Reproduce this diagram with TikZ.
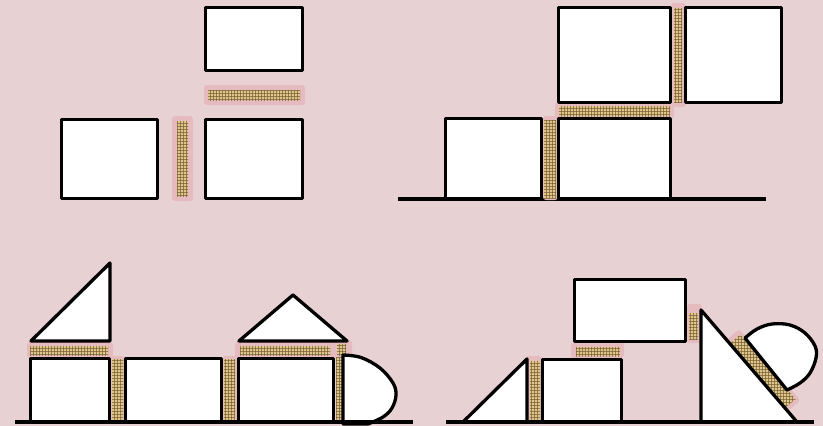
\documentclass[tikz,border=0pt]{standalone}
\usetikzlibrary{patterns}
\definecolor{bgpink}{RGB}{232,209,211}
\definecolor{halopink}{RGB}{229,187,191}
\definecolor{gluetan}{RGB}{222,198,140}
\definecolor{gluedark}{RGB}{120,92,48}
\tikzset{
  blk/.style={draw=black, line width=3.3pt, fill=white, line join=round},
  ground/.style={draw=black, line width=3.3pt},
  halo/.style={fill=halopink, rounded corners=3pt},
}
\newcommand\gluebar[2]{%
  \fill[gluetan] #1 rectangle #2;
  \fill[pattern=grid, pattern color=gluedark, opacity=0.7] #1 rectangle #2;}
\newcommand\gluepoly[1]{%
  \fill[gluetan] #1;
  \fill[pattern=grid, pattern color=gluedark, opacity=0.7] #1;}
\begin{document}
\begin{tikzpicture}[x=1pt,y=-1pt]
\fill[bgpink] (0,0) rectangle (823,426);
\useasboundingbox (0,0) rectangle (823,426);

% ---------- top-left panel ----------
\fill[halo] (204,85) rectangle (305,105);
\gluebar{(208,90)}{(300,100)}
\fill[halo] (172,116) rectangle (193,201);
\gluebar{(177,121)}{(188,196)}
\draw[blk] (205.5,7.5) rectangle (302.5,70.5);
\draw[blk] (61.5,119.5) rectangle (157.5,198.5);
\draw[blk] (205.5,119.5) rectangle (302.5,198.5);

% ---------- top-right panel ----------
\draw[ground] (398,199) -- (766,199);
\fill[halo] (543,116) rectangle (558,200);
\gluebar{(544,120)}{(556,198)}
\fill[halo] (555,102) rectangle (674,119);
\gluebar{(559,106)}{(670,116)}
\fill[halo] (671,3) rectangle (686,107);
\gluebar{(674,8)}{(682,102)}
\draw[blk] (445.5,118.5) rectangle (541.5,198.5);
\draw[blk] (558.5,118.5) rectangle (670.5,198.5);
\draw[blk] (558.5,7.5) rectangle (670.5,102.5);
\draw[blk] (685.5,7.5) rectangle (781.5,102.5);

% ---------- bottom-left panel ----------
\fill[halo] (27,342) rectangle (113,358);
\gluebar{(30,346)}{(108,355)}
\fill[halo] (110,356) rectangle (125,422);
\gluebar{(112,359)}{(123,421)}
\fill[halo] (222,356) rectangle (237,422);
\gluebar{(224,359)}{(235,421)}
\fill[halo] (235,342) rectangle (334,358);
\gluebar{(240,346)}{(330,355)}
\fill[halo] (333,340) rectangle (352,358);
\gluebar{(337,344)}{(346,355)}
\gluebar{(336,357)}{(342,421)}
\draw[blk] (31,341) -- (110,263) -- (110,341) -- cycle;
\draw[blk] (239,341) -- (293,295) -- (347,341) -- cycle;
\draw[blk] (30.5,358.5) rectangle (109.5,422);
\draw[blk] (125.5,358.5) rectangle (221.5,422);
\draw[blk] (238.5,358.5) rectangle (333.5,422);
\draw[blk] plot[smooth, tension=0.6] coordinates {(343,355) (361,357.5) (380,368) (393,383) (396,395) (392,408) (383,417) (368,424)} -- (343,424) -- cycle;
\draw[ground] (15,422) -- (413,422);

% ---------- bottom-right panel ----------
\fill[halo] (525,356) rectangle (542,422);
\gluebar{(530,361)}{(540,420)}
\fill[halo] (571,342) rectangle (624,358);
\gluebar{(576,347)}{(620,356)}
\fill[halo] (687,304) rectangle (702,343);
\gluebar{(689,313)}{(698,339)}
\fill[halopink, rounded corners=3pt] (727,339.4) -- (739.1,329) -- (800.3,400.3) -- (788.2,410.7) -- cycle;
\gluepoly{(730.3,343.2) -- (740.2,334.7) -- (795.5,399.2) -- (785.6,407.7) -- cycle}
\draw[blk] (463,422) -- (527,359) -- (527,422) -- cycle;
\draw[blk] (542.5,359.5) rectangle (621.5,422);
\draw[blk] (574.5,279.5) rectangle (685.5,341.5);
\draw[blk] (701,310) -- (701,422) -- (797,422) -- cycle;
\draw[blk] plot[smooth, tension=0.6] coordinates {(745,338) (757,329) (772,324) (790,325) (805,333) (815,346) (816,358) (810,373) (800,383) (787,390)} -- cycle;
\draw[ground] (446,422) -- (814,422);
\end{tikzpicture}
\end{document}
